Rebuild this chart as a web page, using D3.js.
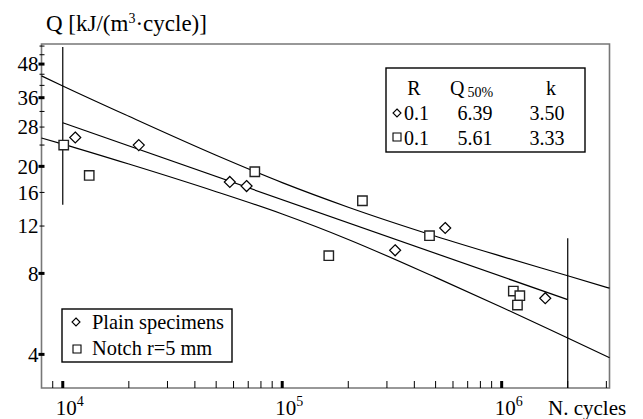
<!DOCTYPE html>
<html><head><meta charset="utf-8">
<script src="https://cdn.jsdelivr.net/npm/d3@7"></script>
<style>
body{margin:0;background:#fff}
svg{display:block}
</style>
</head><body>
<svg id="chart" width="643" height="419"></svg>
<script>
// ---- data ----
const plainN = [1.14e4, 2.22e4, 5.77e4, 6.88e4, 3.27e5, 5.53e5, 1.58e6];
const plainQ = [25.6, 24.0, 17.5, 16.9, 9.75, 11.8, 6.47];
const notchN = [1.01e4, 1.32e4, 7.50e4, 1.63e5, 2.32e5, 4.69e5, 1.13e6, 1.21e6, 1.18e6];
const notchQ = [24.0, 18.5, 19.1, 9.31, 14.9, 11.05, 6.88, 6.61, 6.10];
const bandN  = [8e3, 1e4, 2e4, 5e4, 1e5, 2e5, 5e5, 1e6, 2e6, 3.1e6];
const upperQ = [43.4, 39.8, 30.7, 22.0, 17.4, 14.1, 11.0, 9.26, 7.84, 7.05];
const lowerQ = [25.5, 24.2, 20.4, 16.1, 13.3, 10.7, 7.73, 5.99, 4.60, 3.89];
const fitN   = [1e4, 2e6];           // extent of the plain-specimen fit line
const refN   = 2e6;                  // reference life for Q50%
const limitN = [1e4, 2e6];           // vertical limit lines
const limitQ = [[14.4, 55.5], [3, 10.8]];
const tableR   = ["0.1", "0.1"];
const tableQ50 = ["6.39", "5.61"];
const tableK   = ["3.50", "3.33"];
const yTicks  = [4, 8, 12, 16, 20, 24, 28, 32, 36, 40, 44, 48, 52, 56];
const yLabels = [4, 8, 12, 16, 20, 28, 36, 48];
const yBold   = [4, 8, 20, 36, 48];
const xMajor  = [1e4, 1e5, 1e6];
const xMinor  = [9e3, 2e4, 3e4, 4e4, 5e4, 6e4, 7e4, 8e4, 9e4,
                 2e5, 3e5, 4e5, 5e5, 6e5, 7e5, 8e5, 9e5, 2e6, 3e6];
const legendLabels = ["Plain specimens", "Notch r=5 mm"];

const FONT = "'Liberation Serif', 'Times New Roman', Times, 'DejaVu Serif', serif";

// ---- scales ----
const x = d3.scaleLog().domain([8e3, 3.1e6]).range([41.5, 609.5]);
const y = d3.scaleLog().domain([3, 57]).range([388, 44]);
const svg = d3.select("#chart").attr("font-family", FONT).style("font-family", FONT);
const [x0, x1] = x.range(), [y0, y1] = y.range();
const T = (sel) => sel.attr("font-family", FONT).style("font-family", FONT).attr("fill", "#000");

// frame
svg.append("path").attr("d", `M${x0},${y0}V${y1}H${x1}V${y0}Z`)
  .attr("fill", "none").attr("stroke", "#777").attr("stroke-width", 1.6);

// y ticks
svg.append("g").selectAll("line").data(yTicks).join("line")
  .attr("x1", d => yBold.includes(d) ? x0 - 3 : x0 - 2)
  .attr("x2", x0 + 3)
  .attr("y1", d => y(d)).attr("y2", d => y(d))
  .attr("stroke", "#000").attr("stroke-width", d => yBold.includes(d) ? 3 : 1);
T(svg.append("g").selectAll("text").data(yLabels).join("text"))
  .attr("x", x0 - 3).attr("y", d => y(d)).attr("dy", "0.35em")
  .attr("text-anchor", "end").style("font-size", "21px").text(d => d);

// x ticks
svg.append("g").selectAll("line").data(xMinor).join("line")
  .attr("x1", d => x(d)).attr("x2", d => x(d)).attr("y1", y0).attr("y2", y0 - 7)
  .attr("stroke", "#000").attr("stroke-width", 1);
svg.append("g").selectAll("line").data(xMajor).join("line")
  .attr("x1", d => x(d)).attr("x2", d => x(d)).attr("y1", y0).attr("y2", y0 - 7)
  .attr("stroke", "#000").attr("stroke-width", 3);
const xl = T(svg.append("g").selectAll("text").data(xMajor).join("text"))
  .attr("x", d => x(d) - 7).attr("y", 415).style("font-size", "21px");
xl.append("tspan").text("10");
xl.append("tspan").attr("dy", -9).style("font-size", "14px").text(d => Math.round(Math.log10(d)));
T(svg.append("text")).attr("x", 548).attr("y", 415).style("font-size", "21px").text("N. cycles");

// y title
const tt = T(svg.append("text")).attr("x", 46).attr("y", 31).style("font-size", "23px");
tt.append("tspan").text("Q [kJ/(m");
tt.append("tspan").attr("dy", -8).style("font-size", "14px").text("3");
tt.append("tspan").attr("dy", 8).text("·cycle)]");

// limit lines
svg.append("g").selectAll("line").data(limitN).join("line")
  .attr("x1", d => x(d)).attr("x2", d => x(d))
  .attr("y1", (d, i) => y(limitQ[i][1])).attr("y2", (d, i) => y(limitQ[i][0]))
  .attr("stroke", "#000").attr("stroke-width", 1.2);

// band curves
const band = q => d3.line().x((d, i) => x(bandN[i])).y((d, i) => y(q[i])).curve(d3.curveMonotoneX)(q);
svg.append("path").attr("d", band(upperQ)).attr("fill", "none").attr("stroke", "#000").attr("stroke-width", 1.2);
svg.append("path").attr("d", band(lowerQ)).attr("fill", "none").attr("stroke", "#000").attr("stroke-width", 1.2);

// fit line from table values (plain specimens)
const q50 = +tableQ50[0], kk = +tableK[0];
svg.append("path")
  .attr("d", d3.line().x(d => x(d)).y(d => y(q50 * Math.pow(d / refN, -1 / kk)))(fitN))
  .attr("fill", "none").attr("stroke", "#000").attr("stroke-width", 1.2);

// markers
const diamond = (s) => `M0,${-s}L${s},0L0,${s}L${-s},0Z`;
const square = (s) => `M${-s},${-s}H${s}V${s}H${-s}Z`;
svg.append("g").selectAll("path").data(plainN).join("path")
  .attr("transform", (d, i) => `translate(${x(d)},${y(plainQ[i])})`)
  .attr("d", diamond(5.5)).attr("fill", "#fff").attr("stroke", "#000").attr("stroke-width", 1.2);
svg.append("g").selectAll("path").data(notchN).join("path")
  .attr("transform", (d, i) => `translate(${x(d)},${y(notchQ[i])})`)
  .attr("d", square(4.7)).attr("fill", "#fff").attr("stroke", "#222").attr("stroke-width", 1.4);

// legend
const lg = svg.append("g");
lg.append("rect").attr("x", 62).attr("y", 309).attr("width", 170).attr("height", 53)
  .attr("fill", "#fff").attr("stroke", "#000").attr("stroke-width", 1.4);
lg.append("path").attr("transform", "translate(76,322)").attr("d", diamond(4))
  .attr("fill", "#fff").attr("stroke", "#000").attr("stroke-width", 1.1);
lg.append("path").attr("transform", "translate(77,349)").attr("d", square(4))
  .attr("fill", "#fff").attr("stroke", "#000").attr("stroke-width", 1.1);
T(lg.selectAll("text").data(legendLabels).join("text"))
  .attr("x", 92).attr("y", (d, i) => 329 + i * 26).style("font-size", "20.4px").text(d => d);

// table
const tb = svg.append("g");
tb.append("rect").attr("x", 386).attr("y", 68).attr("width", 199).attr("height", 84)
  .attr("fill", "#fff").attr("stroke", "#000").attr("stroke-width", 1.4);
T(tb.append("text")).attr("x", 414).attr("y", 95).attr("text-anchor", "middle").style("font-size", "20px").text("R");
const qh = T(tb.append("text")).attr("x", 450).attr("y", 95).style("font-size", "20px");
qh.append("tspan").text("Q");
qh.append("tspan").attr("dx", 3).attr("dy", 2).style("font-size", "14px").text("50%");
T(tb.append("text")).attr("x", 551).attr("y", 95).attr("text-anchor", "middle").style("font-size", "20px").text("k");
tb.append("path").attr("transform", "translate(397,113)").attr("d", diamond(4))
  .attr("fill", "#fff").attr("stroke", "#000").attr("stroke-width", 1.1);
tb.append("path").attr("transform", "translate(397,137)").attr("d", square(4))
  .attr("fill", "#fff").attr("stroke", "#000").attr("stroke-width", 1.1);
tableR.forEach((r, i) => {
  const yy = 120 + i * 25;
  T(tb.append("text")).attr("x", 404).attr("y", yy).style("font-size", "20px").text(r);
  T(tb.append("text")).attr("x", 475).attr("y", yy).attr("text-anchor", "middle").style("font-size", "20px").text(tableQ50[i]);
  T(tb.append("text")).attr("x", 547).attr("y", yy).attr("text-anchor", "middle").style("font-size", "20px").text(tableK[i]);
});
</script>
</body></html>
